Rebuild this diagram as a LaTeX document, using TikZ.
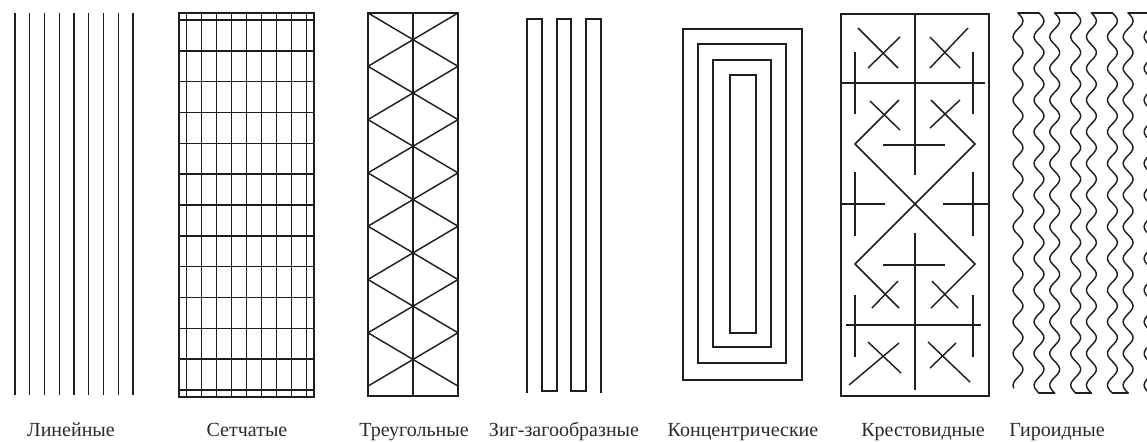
\documentclass[tikz,border=0pt]{standalone}
\usepackage{fontspec}
\setmainfont{Liberation Serif}
\definecolor{ink}{HTML}{1E1E1E}
\definecolor{txt}{HTML}{2A2A2A}

\begin{document}
\begin{tikzpicture}[x=0.5pt, y=-0.5pt,
  pat/.style={draw=ink, line width=0.72pt},
  wave/.style={pat, line cap=round, line join=round},
  lbl/.style={anchor=base, font=\fontsize{10}{12}\selectfont, text=txt, inner sep=0pt},
]
\useasboundingbox (0,0) rectangle (1147,441);
\clip (0,0) rectangle (1147,441);

% Linear
\foreach \i in {0,...,8}
  \draw[pat] ({15+14.75*\i},13) -- ({15+14.75*\i},395);
\node[lbl] (linear) at (71,436) {Линейные};

% Mesh
\draw[pat] (179,13) rectangle (314,397);
\foreach \i in {0,...,8}
  \draw[pat] ({186.7+15*\i},13) -- ({186.7+15*\i},397);
\foreach \j in {0,...,12}
  \draw[pat] (179,{20+30.83*\j}) -- (314,{20+30.83*\j});
\node[lbl] (mesh) at (247,436) {Сетчатые};

% Triangular
\draw[pat] (368,13) rectangle (458,396);
\draw[pat] (413,13) -- (413,396);
\foreach \k in {0,...,6}{
  \draw[pat] (368,{13+53.3*\k}) -- (458,{13+53.3*(\k+1)});
  \draw[pat] (458,{13+53.3*\k}) -- (368,{13+53.3*(\k+1)});
}
\node[lbl] (tri) at (414,436) {Треугольные};

% Zigzag
\draw[pat] (527,393) -- (527,19) -- (542,19) -- (542,391) -- (557,391) -- (557,19)
  -- (571,19) -- (571,391) -- (586,391) -- (586,19) -- (601,19) -- (601,393);
\node[lbl] (zig) at (564,436) {Зиг-загообразные};

% Concentric
\foreach \l/\t/\r/\b in {683/29/802/380, 698/44/786/363, 713/60/771/347, 730/75/756/333}
  \draw[pat] (\l,\t) rectangle (\r,\b);
\node[lbl] (conc) at (743,436) {Концентрические};

% Crosswise
\draw[pat] (841,14) rectangle (989,396);
\draw[pat] (915,14) -- (915,175);
\draw[pat] (915,233) -- (915,390);
\draw[pat] (842,83) -- (985,83);
\draw[pat] (846,325) -- (981,325);
\foreach \x in {855,973}{
  \draw[pat] (\x,52) -- (\x,114);
  \draw[pat] (\x,172) -- (\x,236);
  \draw[pat] (\x,295) -- (\x,357);
}
\draw[pat] (841,204) -- (885,204);
\draw[pat] (943,204) -- (989,204);
\draw[pat] (883,145) -- (945,145);
\draw[pat] (883,265) -- (945,265);
% big diamond
\draw[pat] (899,100) -- (855,144) -- (975,264) -- (931,308);
\draw[pat] (931,100) -- (975,144) -- (855,264) -- (899,308);
% small crosses
\draw[pat] (870,101) -- (900,130);
\draw[pat] (930,128) -- (960,100);
\draw[pat] (872,308) -- (898,281);
\draw[pat] (932,281) -- (958,308);
\draw[pat] (858,28) -- (898,68);
\draw[pat] (900,37) -- (868,68);
\draw[pat] (930,37) -- (960,68);
\draw[pat] (968,28) -- (930,68);
\draw[pat] (868,342) -- (901,373);
\draw[pat] (899,343) -- (849,385);
\draw[pat] (928,342) -- (970,382);
\draw[pat] (956,343) -- (930,368);
\node[lbl] (cross) at (923,436) {Крестовидные};

% Gyroid
\foreach \k [evaluate=\k as \a using 1018+36.7*\k,
             evaluate=\k as \e using 393-5*(\k<0.5)] in {0,...,3}{
  \draw[wave] (\a,13) -- (\a+21,13);
  \draw[wave] (\a+21,393) -- (\a+36.7,393);
  \draw[wave] plot[variable=\t, domain=13:\e, samples=140, smooth]
    ({\a+5*sin(11.367*(\t-13))}, \t);
  \draw[wave] plot[variable=\t, domain=13:393, samples=140, smooth]
    ({\a+21+5*sin(11.367*(\t-13))}, \t);
}
\node[lbl] (gyro) at (1057,436) {Гироидные};

\end{tikzpicture}
\end{document}
